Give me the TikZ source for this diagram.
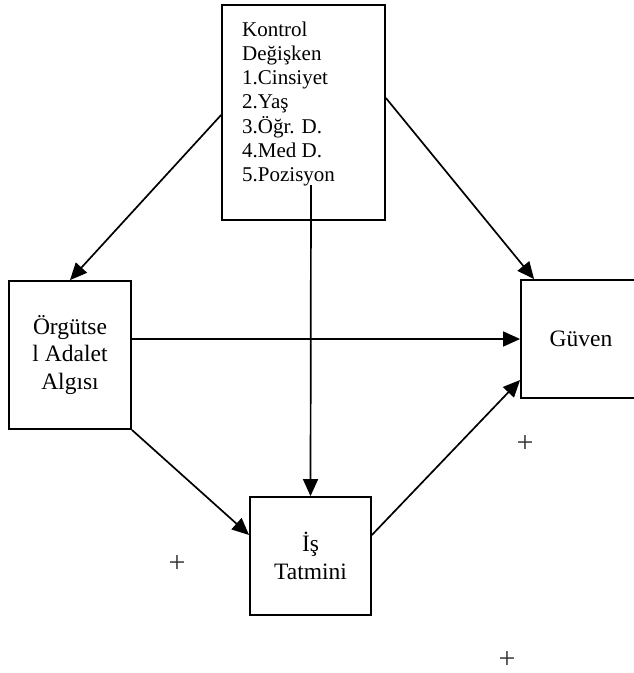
\documentclass[tikz,border=0pt]{standalone}
\usepackage{fontspec}
\setmainfont{Liberation Serif}
\usetikzlibrary{arrows.meta}
\begin{document}
\begin{tikzpicture}[x=1pt,y=-1pt,
  box/.style={draw, line width=1.8pt, inner sep=0pt, align=center,
    font=\fontsize{23.5}{27.5}\selectfont},
  arr/.style={line width=1.7pt, -{Triangle[length=17pt,width=15pt]}},
  plus/.style={font=\fontsize{30}{30}\selectfont, inner sep=0pt, text=black!80,
    text height=17.4pt, text depth=0pt}]
\fill[white] (0,0) rectangle (633,673);
\useasboundingbox (0,0) rectangle (633,673);
% boxes
\node[box, minimum width=163pt, minimum height=215pt] (K) at (303.5,112.5) {};
\node[anchor=north west, align=left, inner sep=0pt,
  font=\fontsize{21}{24.2}\selectfont] (Kt) at (242,21.5)
  {Kontrol\\Değişken\\1.Cinsiyet\\2.Yaş\\3.Öğr. D.\\4.Med D.\\5.Pozisyon};
\node[box, minimum width=122pt, minimum height=148pt] (O) at (70,355) {Örgütse\\l Adalet\\Algısı};
\node[box, minimum width=120pt, minimum height=118pt] (G) at (581,339) {Güven};
\node[box, minimum width=121pt, minimum height=118pt] (I) at (310.5,556) {İş\\Tatmini};
% plus signs
\node[plus] (p1) at (177,564) {+};
\node[plus] (p2) at (525,444) {+};
\node[plus] (p3) at (507,660) {+};
% connectors
\coordinate (Kp) at (311,185);
\draw[arr] ([yshift=-2.5pt]K.west) -- (O.north);
\draw[arr] ([yshift=14.5pt]K.east) -- ([xshift=14pt]G.north west);
\draw[arr] (O.east |- G.west) -- (G.west);
\draw[arr] (O.south east) -- ([yshift=21pt]I.west);
\draw[arr] (Kp) -- (I.north);
\draw[arr] ([yshift=21pt]I.east) -- ([yshift=-41pt]G.west);
\end{tikzpicture}
\end{document}
